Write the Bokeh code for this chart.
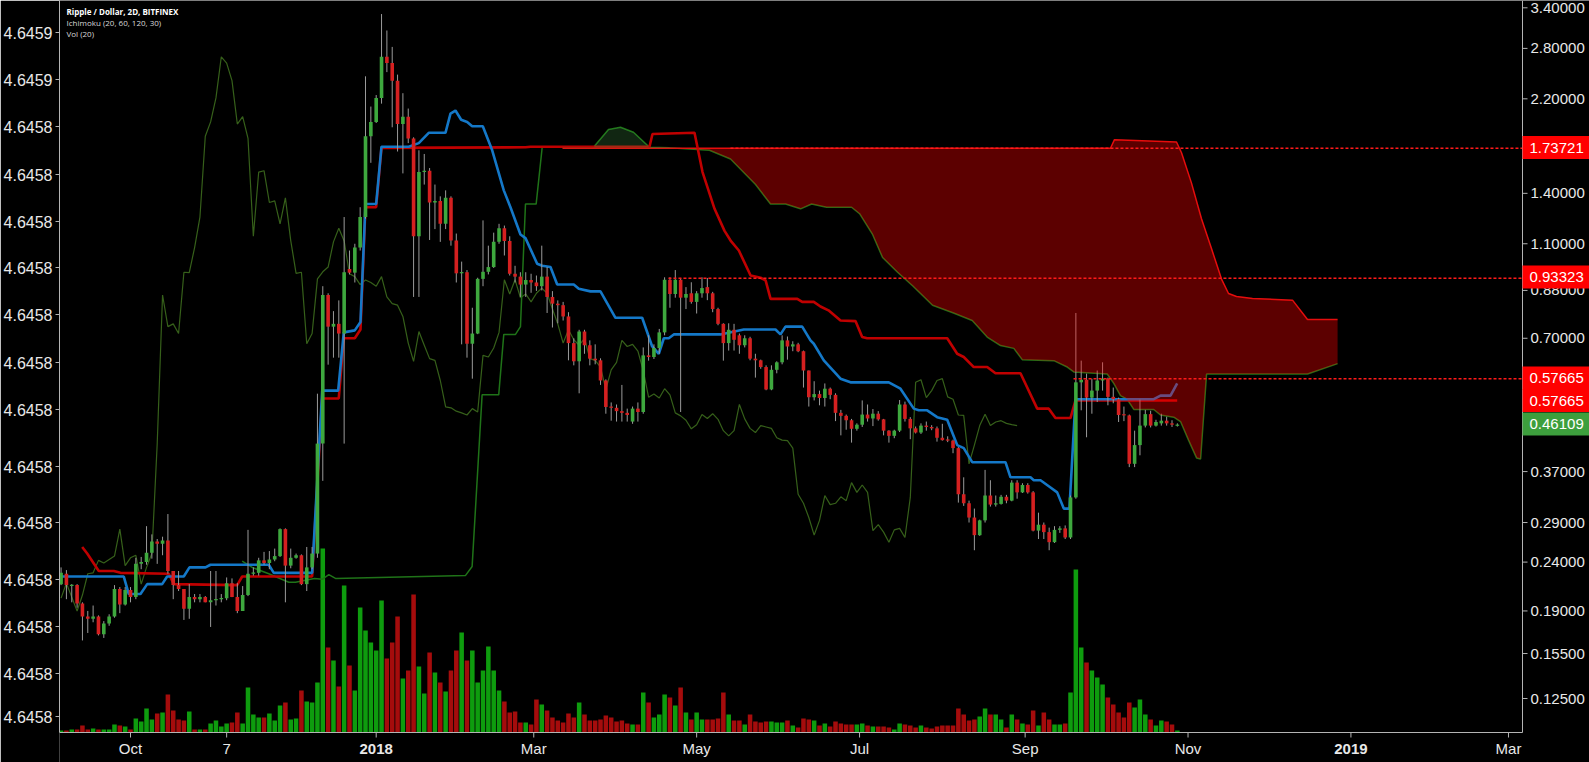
import math
import numpy as np
from bokeh.plotting import figure
from bokeh.models import Range1d, LinearAxis, FixedTicker, LinearScale
from bokeh.core.properties import value
from bokeh.embed import file_html
from bokeh.resources import INLINE

# ---------------- data (XRP/USD, Bitfinex, 2-day bars from 2017-09-05) ----------------
START_DATE = "2017-09-05"
BAR_DAYS = 2.0

opens = [.216,.227,.214,.215,.197,.185,.183,.185,.170,.179,
         .185,.211,.196,.210,.203,.238,.240,.251,.265,.262,
         .266,.230,.215,.211,.192,.203,.201,.203,.198,.200,
         .201,.202,.217,.203,.190,.205,.227,.228,.242,.239,
         .243,.247,.281,.236,.245,.248,.216,.234,.250,.423,
         .861,.740,.750,.716,.975,.958,1.08,1.25,1.84,1.97,
         2.21,2.69,2.61,2.40,1.95,2.02,1.82,1.14,1.55,1.56,
         1.34,1.35,1.21,1.37,1.117,.955,.960,.682,.716,.930,
         .962,.984,1.11,1.185,1.115,.953,.940,.905,.925,.914,
         .898,.940,.853,.826,.820,.777,.684,.627,.723,.677,
         .635,.630,.572,.504,.502,.494,.490,.470,.500,.492,
         .645,.640,.668,.720,.926,.865,.926,.850,.868,.833,
         .868,.894,.868,.805,.750,.684,.729,.710,.677,.700,
         .635,.630,.610,.548,.602,.624,.693,.673,.680,.658,
         .600,.528,.536,.526,.550,.534,.490,.483,.473,.454,
         .463,.486,.477,.488,.475,.450,.439,.450,.510,.476,
         .455,.446,.461,.458,.455,.435,.430,.429,.414,.332,
         .318,.297,.273,.293,.330,.316,.317,.328,.322,.351,
         .335,.347,.335,.279,.287,.277,.264,.280,.282,.270,
         .327,.567,.574,.527,.545,.572,.577,.529,.523,.485,
         .484,.384,.420,.461,.487,.461,.466,.472,.466,.4605]

highs = [.234,.231,.216,.216,.198,.190,.195,.186,.181,.187,
         .215,.213,.213,.213,.245,.246,.285,.274,.268,.271,
         .302,.230,.230,.211,.216,.206,.206,.204,.230,.230,
         .206,.223,.222,.217,.214,.280,.234,.245,.252,.253,
         .256,.282,.282,.256,.250,.249,.258,.258,.537,.898,
         .868,.797,.839,1.25,1.065,1.10,1.31,2.45,2.12,2.24,
         3.30,3.05,2.82,2.47,2.26,2.10,1.83,1.72,1.69,1.58,
         1.46,1.38,1.42,1.38,1.155,1.01,.97,.81,.935,1.23,
         1.09,1.16,1.21,1.20,1.14,.99,.96,.96,.953,.945,
         1.09,.984,.877,.839,.833,.793,.70,.729,.729,.693,
         .68,.636,.575,.515,.51,.56,.50,.505,.515,.67,
         .71,.68,.732,.937,.937,.97,.934,.894,.915,.877,
         .937,.934,.874,.81,.752,.752,.75,.716,.71,.705,
         .65,.632,.615,.615,.627,.71,.706,.69,.685,.66,
         .60,.57,.545,.564,.553,.538,.497,.486,.476,.466,
         .52,.51,.499,.494,.476,.451,.452,.521,.517,.48,
         .459,.466,.47,.462,.459,.465,.438,.431,.416,.36,
         .322,.31,.294,.373,.355,.33,.331,.331,.355,.355,
         .35,.35,.337,.304,.29,.283,.285,.285,.286,.33,
         .79,.629,.591,.577,.60,.624,.58,.553,.527,.505,
         .486,.45,.522,.497,.495,.474,.488,.481,.473,.466]

lows = [.215,.201,.198,.193,.165,.171,.180,.169,.167,.177,
        .184,.188,.195,.198,.201,.232,.237,.244,.238,.248,
        .227,.201,.209,.182,.183,.198,.198,.198,.176,.195,
        .198,.200,.203,.188,.190,.204,.225,.225,.237,.232,
        .241,.246,.198,.233,.244,.215,.209,.232,.245,.354,
        .617,.638,.638,.423,.950,.914,1.065,1.24,1.62,1.96,
        2.15,2.50,1.92,1.71,1.54,1.78,.853,.853,1.46,1.12,
        1.18,1.11,1.18,1.09,.914,.68,.638,.577,.714,.898,
        .95,.98,1.10,1.04,.945,.914,.853,.853,.87,.878,
        .88,.79,.737,.752,.762,.63,.615,.538,.65,.615,
        .618,.56,.488,.472,.47,.47,.47,.465,.47,.488,
        .629,.634,.65,.71,.81,.85,.492,.805,.826,.788,
        .85,.84,.793,.745,.629,.66,.66,.65,.67,.63,
        .58,.605,.546,.546,.592,.618,.632,.658,.655,.553,
        .505,.52,.508,.505,.523,.471,.44,.452,.425,.45,
        .458,.47,.46,.472,.44,.425,.434,.447,.47,.432,
        .444,.443,.45,.451,.427,.429,.426,.404,.319,.314,
        .29,.254,.272,.29,.313,.313,.316,.318,.321,.325,
        .334,.333,.278,.268,.268,.254,.263,.276,.268,.268,
        .325,.496,.436,.488,.516,.545,.508,.513,.469,.471,
        .378,.378,.40,.457,.457,.459,.461,.461,.458,.459]

closes = [.228,.215,.215,.197,.185,.183,.185,.170,.179,.185,
          .211,.196,.210,.203,.238,.240,.251,.265,.262,.266,
          .230,.215,.211,.192,.203,.201,.203,.198,.200,.201,
          .202,.217,.203,.190,.205,.227,.228,.242,.239,.243,
          .247,.281,.236,.245,.248,.216,.234,.250,.423,.861,
          .740,.750,.716,.960,.958,1.08,1.25,1.84,1.97,2.21,
          2.69,2.61,2.40,1.95,2.02,1.82,1.14,1.55,1.56,1.34,
          1.35,1.21,1.37,1.117,.955,.960,.682,.716,.930,.962,
          .984,1.11,1.185,1.115,.953,.940,.905,.925,.914,.898,
          .940,.853,.826,.820,.777,.684,.627,.723,.677,.635,
          .630,.572,.504,.502,.494,.490,.485,.500,.492,.645,
          .640,.668,.720,.926,.865,.926,.850,.865,.833,.868,
          .890,.868,.805,.750,.684,.729,.695,.677,.700,.635,
          .630,.610,.548,.602,.624,.693,.673,.680,.658,.600,
          .528,.536,.526,.550,.534,.490,.483,.473,.454,.463,
          .486,.477,.488,.475,.450,.439,.450,.510,.476,.455,
          .446,.461,.458,.455,.435,.430,.429,.414,.332,.318,
          .297,.273,.293,.330,.316,.318,.328,.322,.351,.335,
          .347,.335,.279,.287,.277,.264,.280,.282,.270,.327,
          .567,.574,.527,.545,.572,.577,.529,.523,.485,.484,
          .384,.420,.461,.487,.461,.469,.472,.466,.463,.46109]

volumes = [2,2,3,3,7,3,4,3,3,3,
           8,7,6,3,14,11,24,13,19,20,
           38,22,13,12,21,3,3,3,9,12,
           6,9,10,20,9,45,18,15,15,19,
           12,27,30,13,14,42,31,30,50,184,
           85,72,46,147,67,42,125,102,90,82,
           132,74,90,116,54,62,138,66,39,80,
           60,50,41,62,82,100,72,82,50,62,
           86,62,42,31,20,21,10,10,8,33,
           28,22,15,12,10,19,15,30,18,12,
           12,13,17,15,11,12,9,8,8,40,
           30,15,18,38,35,27,45,20,13,20,
           13,13,13,14,40,18,12,12,8,18,
           11,10,11,11,10,10,12,7,5,14,
           13,12,7,9,6,11,9,8,8,8,
           9,7,6,6,6,5,3,9,8,7,
           5,7,5,4,6,7,7,7,24,18,
           12,13,16,24,18,18,13,5,18,13,
           9,8,22,7,20,13,8,8,9,40,
           163,85,70,62,55,48,35,28,20,15,
           30,25,33,18,13,7,12,11,8,2]

# Ichimoku (20, 60, 120, 30) lines: bar number -> value
tenkan_bar = [0.57, 12.74, 13.68, 15.87, 17.12, 19.93, 20.86, 23.97, 25.04, 28.04, 28.97, 39.89, 40.82,
              48.01, 49.89, 52.88, 53.93, 55.99, 57.06, 57.99, 59.99, 60.99, 66.1, 67.97, 69.84, 72.97,
              73.91, 74.84, 75.91, 77.03, 77.97, 79.96, 81.72, 83.89, 85.14, 87.01, 87.95, 90.14, 91.08,
              92.63, 93.89, 96.99, 97.93, 100.12, 101.99, 104.8, 109.8, 111.67, 112.91, 113.85, 114.78,
              115.72, 124.46, 128.82, 134.76, 135.7, 136.63, 139.76, 141.31, 141.93, 143.8, 146.93, 148.8,
              155.97, 158.16, 160.65, 161.59, 163.16, 165.03, 166.91, 168.78, 170.01, 171.59, 177.82,
              178.76, 182.5, 183.12, 184.38, 185.93, 187.5, 188.74, 189.8, 190.93, 205.59, 206.85, 208.72,
              209.97]
tenkan_val = [0.224, 0.224, 0.206, 0.206, 0.216, 0.216, 0.224, 0.224, 0.234, 0.234, 0.237, 0.237, 0.228,
              0.228, 0.545, 0.545, 0.72, 0.727, 0.757, 1.33, 1.33, 1.75, 1.75, 1.78, 1.87, 1.87,
              2.05, 2.08, 1.99, 1.97, 1.93, 1.93, 1.72, 1.42, 1.31, 1.15, 1.13, 1.0, 0.99,
              0.984, 0.905, 0.905, 0.887, 0.876, 0.876, 0.772, 0.772, 0.673, 0.65, 0.70, 0.70,
              0.713, 0.713, 0.73, 0.73, 0.713, 0.74, 0.74, 0.693, 0.682, 0.63, 0.577, 0.567,
              0.567, 0.55, 0.50, 0.496, 0.496, 0.48, 0.474, 0.42, 0.414, 0.387, 0.387,
              0.36, 0.36, 0.355, 0.355, 0.345, 0.335, 0.31, 0.31, 0.523, 0.523, 0.532, 0.532,
              0.564]

kijun_bar = [4.95, 5.89, 8.06, 10.87, 12.12, 21.17, 22.1, 33.97, 34.91, 48.01, 49.89, 52.99, 53.93,
             55.99, 57.06, 57.99, 59.99, 60.99, 87.95, 88.89, 111.17, 111.73, 119.6, 121.1, 123.35,
             125.22, 126.35, 127.9, 130.1, 131.97, 132.91, 133.84, 138.84, 139.76, 141.93, 143.18,
             144.68, 146.93, 149.74, 150.99, 151.93, 166.91, 168.78, 170.01, 171.89, 174.4, 175.95,
             180.63, 183.76, 185.93, 187.18, 189.99, 190.93, 209.97]
kijun_val = [0.258, 0.25, 0.23, 0.23, 0.228, 0.227, 0.216, 0.215, 0.224, 0.224, 0.525, 0.525, 0.70,
             0.70, 0.73, 1.31, 1.31, 1.74, 1.745, 1.75, 1.75, 1.86, 1.87, 1.55, 1.30,
             1.17, 1.117, 1.065, 0.945, 0.935, 0.923, 0.845, 0.845, 0.833, 0.833, 0.815,
             0.80, 0.762, 0.76, 0.704, 0.70, 0.70, 0.65, 0.64, 0.61, 0.61, 0.592,
             0.592, 0.50, 0.50, 0.478, 0.478, 0.52, 0.52]

senkou_a_bar = [34.91, 36.78, 39.89, 43.63, 44.89, 48.44, 49.89, 51.13, 52.38, 76.7, 77.96, 79.83,
                82.94, 83.89, 86.08, 87.01, 87.95, 89.95, 91.08, 100.68, 103.49, 105.74, 108.17,
                111.17, 114.91, 122.4, 126.35, 131.03, 133.84, 136.65, 139.46, 141.52, 144.33,
                149.01, 150.51, 152.94, 154.81, 157.62, 160.43, 164.17, 168.1, 171.6, 174.4, 176.9,
                179.39, 180.96, 186.88, 189.39, 190.62, 196.87, 198.1, 199.36, 200.61, 201.85,
                205.59, 206.85, 209.34, 210.6, 212.1, 213.6, 214.35, 215.47, 234.38, 240.0]
senkou_a_val = [0.241, 0.234, 0.227, 0.218, 0.218, 0.222, 0.221, 0.226, 0.222, 0.225, 0.235, 0.534,
                0.534, 0.713, 0.713, 0.74, 1.33, 1.33, 1.745, 1.745, 1.90, 1.92, 1.875,
                1.745, 1.74, 1.72, 1.65, 1.46, 1.33, 1.33, 1.30, 1.33, 1.31,
                1.31, 1.27, 1.15, 1.03, 0.96, 0.90, 0.82, 0.79, 0.762, 0.704, 0.676,
                0.667, 0.632, 0.629, 0.61, 0.596, 0.59, 0.564, 0.532, 0.523, 0.498,
                0.498, 0.485, 0.48, 0.47, 0.43, 0.395, 0.393, 0.59, 0.59, 0.62]

senkou_b_bar = [94.88, 197.48, 198.23, 209.84, 210.78, 212.65, 214.52, 216.39, 218.27, 219.58,
                221.08, 224.07, 231.56, 234.37, 240.0]
senkou_b_val = [1.737, 1.737, 1.81, 1.79, 1.70, 1.47, 1.24, 1.075, 0.929, 0.867,
                0.855, 0.847, 0.84, 0.766, 0.766]

# horizontal price levels
level_values = [1.73721, 0.93323, 0.57665]
level_start_bar = [126.33, 114.72, 190.56]

# axes
x_tick_days = [26, 62, 118, 177, 238, 299, 361, 422, 483, 542]
x_tick_labels = ["Oct", "7", "2018", "Mar", "May", "Jul", "Sep", "Nov", "2019", "Mar"]
price_ticks = [3.4, 2.8, 2.2, 1.8, 1.4, 1.1, 0.88, 0.7, 0.55, 0.37, 0.29, 0.24, 0.19, 0.155, 0.125]
vol_ticks = [700, 653, 606, 558, 511, 465, 418, 370, 323, 266, 210, 153, 106, 59, 16]
vol_tick_labels = ["4.6459", "4.6459"] + ["4.6458"] * 13

title_lines = ["Ripple / Dollar, 2D, BITFINEX", "Ichimoku (20, 60, 120, 30)", "Vol (20)"]

# ---------------- layout (page pixels <-> data) ----------------
W, H = 1589, 762
FRAME_L, FRAME_R, FRAME_B = 59, 1522, 732     # plotting area of the chart
PX_PER_DAY = 2.6705
DAY_AT_L = -0.59
P_REF, Y_REF, PX_PER_LN = 3.4, 7.3, 209.1


def day_at(xpx):
    return DAY_AT_L + (xpx - FRAME_L) / PX_PER_DAY


def price_at(ypx):
    return P_REF * math.exp(-(ypx - Y_REF) / PX_PER_LN)


def bar_day(b):
    return (np.asarray(b, dtype=float) - 1.0) * BAR_DAYS


o = np.array(opens); h = np.array(highs); l = np.array(lows); c = np.array(closes)
n = len(c)
xd = bar_day(np.arange(1, n + 1))
up = c >= o

p = figure(width=W, height=H, x_range=Range1d(day_at(FRAME_L), day_at(W)),
           y_range=Range1d(price_at(H), price_at(0)),
           y_axis_type="log", x_axis_location=None, y_axis_location=None,
           output_backend="svg", toolbar_location=None,
           min_border_left=FRAME_L, min_border_right=0, min_border_top=0, min_border_bottom=0)
p.background_fill_color = "#000000"
p.border_fill_color = "#000000"
p.outline_line_color = None
p.grid.visible = False
p.extra_y_ranges = {"vol": Range1d(-(H - FRAME_B), FRAME_B)}
p.extra_y_scales = {"vol": LinearScale()}

AX_COL = "#b4b4b4"
TXT_COL = "#e8e8e8"
FONT = "Liberation Sans"

# left (volume) axis
la = LinearAxis(y_range_name="vol", ticker=FixedTicker(ticks=vol_ticks), bounds=(0, FRAME_B),
                major_label_overrides={t: s for t, s in zip(vol_ticks, vol_tick_labels)})
la.major_label_text_font_size = "16px"
la.major_label_text_font = FONT
la.major_label_text_color = TXT_COL
la.major_label_standoff = 3
la.major_tick_out = 4
la.major_tick_in = 0
la.minor_tick_out = 0
la.minor_tick_in = 0
la.axis_line_color = AX_COL
la.major_tick_line_color = AX_COL
p.add_layout(la, "left")

# volume bars
vol_col = ["#0e9c0e" if u else "#a50c0c" for u in up]
p.vbar(x=xd, width=1.7, top=volumes, bottom=0, y_range_name="vol",
       fill_color=vol_col, line_color=None)

# lagging span (close shifted back 30 bars)
p.line(xd[:-30], c[30:], line_color="#36601a", line_width=1.2)

# leading spans
p.line(bar_day(senkou_a_bar), senkou_a_val, line_color="#1f7318", line_width=1.5)
p.line(bar_day(senkou_b_bar), senkou_b_val, line_color="#e01010", line_width=1.5)

# base / conversion lines
p.line(bar_day(kijun_bar), kijun_val, line_color="#c00000", line_width=2.6)
p.line(bar_day(tenkan_bar), tenkan_val, line_color="#1478c8", line_width=2.6)

# candles
p.segment(x0=xd, y0=l, x1=xd, y1=h, line_color="#9a9a9a", line_width=1)
body_top = np.maximum(o, c)
body_bot = np.minimum(o, c)
body_top = np.maximum(body_top, body_bot * 1.006)
body_col = ["#3ea83e" if u else "#d42020" for u in up]
p.vbar(x=xd, width=1.35, top=body_top, bottom=body_bot, fill_color=body_col, line_color=None)

# cloud fill (semi-transparent, above the candles)
grid = np.unique(np.concatenate([senkou_a_bar, senkou_b_bar]))
grid = grid[(grid >= senkou_b_bar[0]) & (grid <= senkou_b_bar[-1])]
a_i = np.exp(np.interp(grid, senkou_a_bar, np.log(senkou_a_val)))
b_i = np.exp(np.interp(grid, senkou_b_bar, np.log(senkou_b_val)))
top = np.maximum(a_i, b_i)
p.varea(x=bar_day(grid), y1=a_i, y2=top, fill_color="#ff0000", fill_alpha=0.36)
p.varea(x=bar_day(grid), y1=b_i, y2=top, fill_color="#4caf50", fill_alpha=0.22)

# dotted levels
xr = day_at(FRAME_R)
p.segment(x0=bar_day(level_start_bar), y0=level_values, x1=[xr] * len(level_values), y1=level_values,
          line_color="#ff1a1a", line_width=1.5, line_dash="3 2")

# ---- right price scale (drawn by hand so that its value boxes can sit over it) ----
ybot, ytop = price_at(FRAME_B), price_at(0)
p.segment(x0=[xr], y0=[ybot], x1=[xr], y1=[ytop], line_color=AX_COL, line_width=1)
p.segment(x0=[xr] * len(price_ticks), y0=price_ticks, x1=[day_at(FRAME_R + 5)] * len(price_ticks),
          y1=price_ticks, line_color=AX_COL, line_width=1)
p.text(x=[day_at(FRAME_R + 8)] * len(price_ticks), y=price_ticks,
       text=[f"{t:.5f}" for t in price_ticks], text_align="left", text_baseline="middle",
       text_color=TXT_COL, text_font=value(FONT), text_font_size=value("15px"))

box_text = ["1.73721", "0.93323", "0.57665", "0.57665", f"{closes[-1]:.5f}"]
box_col = ["#ff0000", "#ff0000", "#ff0000", "#ff0000", "#3d9f3d"]
box_mid = [147, 276.5, 377.5, 400, 423.5]            # page y of each box centre
p.quad(left=[xr] * 5, right=[day_at(W)] * 5,
       top=[price_at(m - 11.5) for m in box_mid], bottom=[price_at(m + 11.5) for m in box_mid],
       fill_color=box_col, line_color=None)
p.text(x=[day_at(FRAME_R + 7)] * 5, y=[price_at(m) for m in box_mid], text=box_text,
       text_align="left", text_baseline="middle", text_color="#ffffff",
       text_font=value(FONT), text_font_size=value("15px"))

# ---- bottom time scale ----
p.segment(x0=[day_at(FRAME_L)], y0=[ybot], x1=[xr], y1=[ybot], line_color=AX_COL, line_width=1)
p.segment(x0=x_tick_days, y0=[ybot] * len(x_tick_days), x1=x_tick_days,
          y1=[price_at(FRAME_B + 5)] * len(x_tick_days), line_color=AX_COL, line_width=1)
is_year = [s in ("2018", "2019") for s in x_tick_labels]
p.text(x=[d for d, y in zip(x_tick_days, is_year) if not y],
       y=[price_at(748)] * (len(is_year) - sum(is_year)),
       text=[s for s, y in zip(x_tick_labels, is_year) if not y],
       text_align="center", text_baseline="middle", text_color=TXT_COL,
       text_font=value(FONT), text_font_size=value("15px"))
p.text(x=[d for d, y in zip(x_tick_days, is_year) if y], y=[price_at(748)] * sum(is_year),
       text=[s for s, y in zip(x_tick_labels, is_year) if y],
       text_align="center", text_baseline="middle", text_color=TXT_COL,
       text_font=value(FONT), text_font_size=value("15px"), text_font_style="bold")

# ---- legend texts ----
p.text(x=[day_at(66)], y=[price_at(10.5)], text=[title_lines[0]], text_align="left",
       text_baseline="middle", text_color="#ffffff", text_font=value("Open Sans"),
       text_font_size=value("8px"), text_font_style="bold")
p.text(x=[day_at(66)] * 2, y=[price_at(21.8), price_at(32.8)], text=title_lines[1:],
       text_align="left", text_baseline="middle", text_color="#d8d8d8",
       text_font=value("Open Sans"), text_font_size=value("8px"))

open("out.html", "w").write(file_html(p, INLINE))
